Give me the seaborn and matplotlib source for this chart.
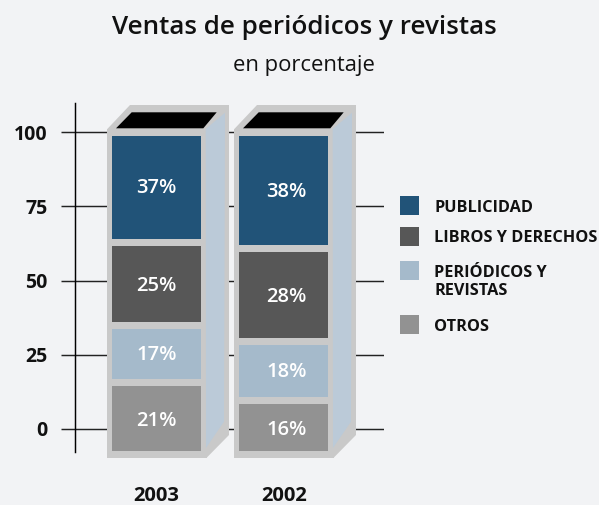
import matplotlib
matplotlib.use("Agg")
import matplotlib.pyplot as plt
from matplotlib.patches import Polygon, Rectangle
import numpy as np
import seaborn as sns

# ---- data ----
years = ["2003", "2002"]
segments = ["OTROS", "PERIÓDICOS Y REVISTAS", "LIBROS Y DERECHOS", "PUBLICIDAD"]
otros = [21.9, 15.9]
periodicos = [16.9, 17.4]
libros = [25.4, 28.9]
publicidad = [34.9, 36.8]
label_otros = ["21%", "16%"]
label_periodicos = ["17%", "18%"]
label_libros = ["25%", "28%"]
label_publicidad = ["37%", "38%"]
y_ticks = [0, 25, 50, 75, 100]
legend_labels = ["PUBLICIDAD", "LIBROS Y DERECHOS", "PERIÓDICOS Y\nREVISTAS", "OTROS"]

BG = "#F2F3F5"
BLUE, DARK, LIGHT, GRAY = "#215378", "#575757", "#A5BACB", "#929292"
FRAME, SIDE = "#C9C9C9", "#BBCAD8"
INK = "#111111"
FONT = "Open Sans"

W, H = 599, 505
sns.set_theme(style="white", rc={"figure.facecolor": BG, "axes.facecolor": "none"})
plt.rcParams["font.family"] = [FONT, "DejaVu Sans"]

fig = plt.figure(figsize=(W / 100, H / 100), dpi=100, facecolor=BG)

# axes geometry in pixels
PXU = 2.97          # pixels per y unit
PXC = 127.0         # pixels per category
Y0 = 429.0          # pixel row of value 0
X0 = 156.7          # pixel column of first bar centre
L, R, TOP, BOT = 75.3, 384.0, 100.0, 470.0
ax = fig.add_axes([L / W, 1 - BOT / H, (R - L) / W, (BOT - TOP) / H])


def dx(px):
    return px / PXC


def dy(px):
    return px / PXU


series = [otros, periodicos, libros, publicidad]
colors = [GRAY, LIGHT, DARK, BLUE]
texts = [label_otros, label_periodicos, label_libros, label_publicidad]

GAP = dy(7)
base = np.full(2, dy(Y0 - 451))
label_shift_y = [-2.5, -1, -1.5, -1]
for vals, col, labs, sy in zip(series, colors, texts, label_shift_y):
    vals = np.array(vals)
    before = len(ax.patches)
    sns.barplot(x=years, y=vals, order=years, color=col, saturation=1, width=88.6 / PXC,
                bottom=base, ax=ax, zorder=4, linewidth=0)
    for i, (p, t) in enumerate(zip(ax.patches[before:], labs)):
        xc = p.get_x() + p.get_width() / 2 + dx(3 if i == 1 else 0)
        yc = p.get_y() + p.get_height() / 2 + dy(sy)
        ax.text(xc, yc, t, color="white", ha="center", va="center",
                fontsize=14.5, fontweight="semibold", zorder=6)
    base = base + vals + GAP

# 3D box around each stack, drawn relative to each bar centre
for i in range(len(years)):
    c = i
    def X(px):
        return c + dx(px)
    front = Rectangle((X(-49.4), dy(Y0 - 457.7)), dx(99.4), dy(457.7 - 129),
                      fc=FRAME, ec="none", zorder=2, clip_on=False)
    ax.add_patch(front)
    shell = Polygon([(X(-49.4), dy(Y0 - 129)), (X(-26.7), dy(Y0 - 105)), (X(72.3), dy(Y0 - 105)),
                     (X(72.3), dy(Y0 - 435)), (X(50), dy(Y0 - 457.7)), (X(50), dy(Y0 - 129))],
                    closed=True, fc=FRAME, ec="none", zorder=2, clip_on=False)
    ax.add_patch(shell)
    lid = Polygon([(X(-40.7), dy(Y0 - 128.3)), (X(-25), dy(Y0 - 112.3)), (X(60), dy(Y0 - 112.3)),
                   (X(46.6), dy(Y0 - 128.3))], closed=True, fc="black", ec="none", zorder=3)
    ax.add_patch(lid)
    side = Polygon([(X(49), dy(Y0 - 129)), (X(68.3), dy(Y0 - 112.7)), (X(67.3), dy(Y0 - 421.7)),
                    (X(49.3), dy(Y0 - 448))], closed=True, fc=SIDE, ec="none", zorder=3)
    ax.add_patch(side)

ax.set_xlim((L - X0) / PXC, (R - X0) / PXC)
ax.set_ylim((Y0 - BOT) / PXU, (Y0 - TOP) / PXU)
ax.set_xlabel("")
ax.set_ylabel("")

ax.set_yticks(y_ticks)
ax.set_yticklabels([str(t) for t in y_ticks], fontsize=14, fontweight="bold", color=INK)
ax.tick_params(axis="y", left=True, length=10.3, width=1.05, color="#222222", pad=9.6)
ax.tick_params(axis="x", bottom=False, pad=5.5, labelsize=14.5, labelcolor=INK)
for lab in ax.get_xticklabels():
    lab.set_fontweight("bold")
ax.grid(axis="y", color="#222222", lw=1.05, zorder=1)
ax.set_axisbelow(True)

for s in ("top", "right", "bottom"):
    ax.spines[s].set_visible(False)
ax.spines["left"].set_color("black")
ax.spines["left"].set_linewidth(1.05)
ax.spines["left"].set_bounds(dy(Y0 - 452), dy(Y0 - 103))

# headings
fig.text(304.5 / W, 1 - 28 / H, "Ventas de periódicos y revistas", ha="center", va="center",
         fontsize=18.7, fontweight="semibold", color=INK)
fig.text(304 / W, 1 - 66 / H, "en porcentaje", ha="center", va="center",
         fontsize=15.8, color=INK)

# legend
legend_colors = [BLUE, DARK, LIGHT, GRAY]
box_tops = [196, 227, 261, 315]
label_rows = [207.7, 237.7, 282.2, 326.7]
for lab, col, top, row in zip(legend_labels, legend_colors, box_tops, label_rows):
    fig.add_artist(Rectangle((400 / W, 1 - (top + 19) / H), 19 / W, 19 / H, fc=col, ec="none",
                             transform=fig.transFigure))
    fig.text(434 / W, 1 - row / H, lab, ha="left", va="center", fontsize=11.7,
             fontweight="bold", color=INK, linespacing=1.2)

fig.savefig("out.png", dpi=100, facecolor=BG)
